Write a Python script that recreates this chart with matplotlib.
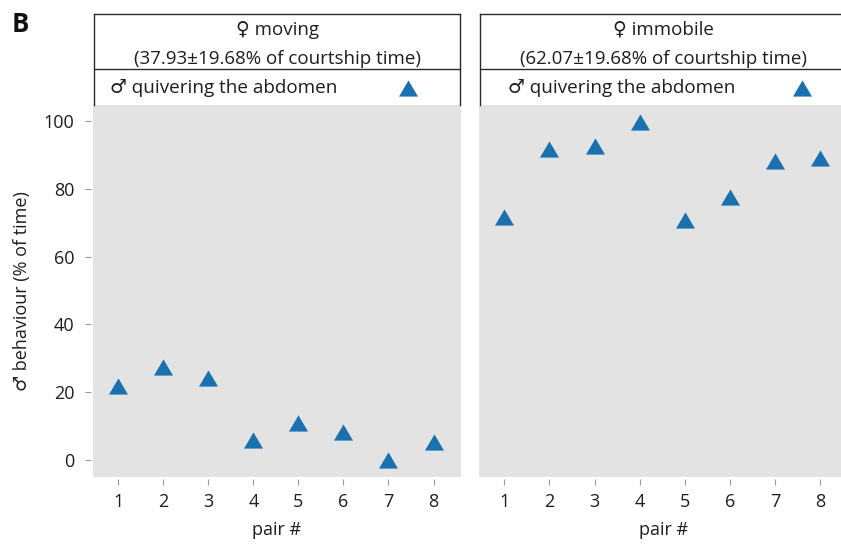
import numpy as np
import matplotlib
matplotlib.use('Agg')
import matplotlib.pyplot as plt

plt.rcParams['font.family'] = ['Open Sans', 'DejaVu Sans']

# % of time spent quivering the abdomen, per pair
pairs = [1, 2, 3, 4, 5, 6, 7, 8]
moving = [21.7, 27.3, 24.3, 6.0, 10.8, 8.3, 0.0, 5.2]
immobile = [71.8, 91.7, 92.7, 99.6, 70.7, 77.7, 88.1, 89.1]
titles = ['\u2640 moving', '\u2640 immobile']
subtitles = ['(37.93\u00b119.68% of courtship time)',
             '(62.07\u00b119.68% of courtship time)']
legend_label = '\u2642 quivering the abdomen'
yticks = [0, 20, 40, 60, 80, 100]

W, H = 841, 546
blue = '#1b70b0'
bg = '#e3e3e3'
ink = '#1e1e1e'
tri = [(-1, -0.85), (1, -0.85), (0, 0.85)]

fig = plt.figure(figsize=(W / 100, H / 100), dpi=100)

def px(x0, y0, x1, y1):
    # pixel box (top-left origin) -> figure fraction rect
    return [x0 / W, 1 - y1 / H, (x1 - x0) / W, (y1 - y0) / H]

panels = [
    dict(ax=px(93, 105, 461, 477), head=px(94, 14, 460, 105), data=moving,
         leg_x=0.044, tri_x=0.858),
    dict(ax=px(479, 105, 848, 477), head=px(480, 14, 846, 105), data=immobile,
         leg_x=0.077, tri_x=0.88),
]

for i, p in enumerate(panels):
    ax = fig.add_axes(p['ax'])
    ax.set_facecolor(bg)
    ax.plot(pairs, p['data'], linestyle='none', marker=tri, markersize=13.7,
            color=blue, markeredgewidth=0)
    ax.set_xlim(0.44, 8.61)
    ax.set_ylim(-5, 104.7)
    ax.set_xticks(pairs)
    for s in ax.spines.values():
        s.set_visible(False)
    ax.spines['bottom'].set_position(('outward', 1.5))
    ax.spines['left'].set_position(('outward', 1.5))
    ax.tick_params(axis='x', length=4, width=0.8, color='#9a9a9a', pad=6,
                   labelsize=13, labelcolor=ink)
    ax.tick_params(axis='y', length=4, width=0.8, color='#9a9a9a', pad=8,
                   labelsize=13, labelcolor=ink)
    ax.set_xlabel('pair #', fontsize=13, color=ink, labelpad=7)
    if i == 0:
        ax.set_yticks(yticks)
        ax.set_ylabel('\u2642 behaviour (% of time)', fontsize=13,
                      color=ink, labelpad=9)
    else:
        ax.set_yticks([])

    # header box with condition title and legend row
    hx = fig.add_axes(p['head'])
    hx.set_xlim(0, 1)
    hx.set_ylim(0, 1)
    hx.set_xticks([])
    hx.set_yticks([])
    hx.patch.set_alpha(0)
    for s in hx.spines.values():
        s.set_linewidth(1)
        s.set_color('#2b2b2b')
    hx.spines['bottom'].set_visible(False)
    hx.axhline(0.396, color='#2b2b2b', linewidth=1)
    hx.text(0.5, 0.826, titles[i], ha='center', va='center', fontsize=13.5,
            color=ink)
    hx.text(0.5, 0.51, subtitles[i], ha='center', va='center', fontsize=13.5,
            color=ink)
    hx.text(p['leg_x'], 0.185, legend_label, ha='left', va='center',
            fontsize=13.6, color=ink)
    hx.plot([p['tri_x']], [0.19], linestyle='none', marker=tri,
            markersize=13.7, color=blue, markeredgewidth=0)

fig.text(12 / W, 1 - 24 / H, 'B', fontsize=18.5, fontweight='bold',
         ha='left', va='center', color='#111111')

fig.savefig('out.png', dpi=100)
